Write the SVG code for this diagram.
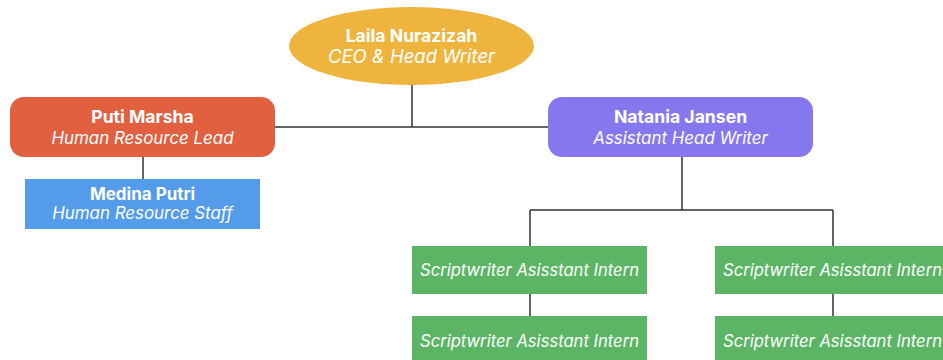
<svg xmlns="http://www.w3.org/2000/svg" width="943" height="360" viewBox="0 0 943 360">
<style>
text{font-family:Inter,"Noto Sans",sans-serif;fill:#fff;text-anchor:middle}
.n{font-weight:700;font-size:17.6px}
.r{font-style:italic;font-size:16.9px}
.g{font-style:italic;font-size:16.6px}
.c{fill:none;stroke:#333;stroke-width:1.5}
</style>
<rect width="943" height="360" fill="#fff"/>
<g id="connectors" class="c">
<path d="M412 85V127M275 127H548"/>
<path d="M143 157V179"/>
<path d="M682 157V210M530 210H833M530 210V246M833 210V246"/>
<path d="M530 294V316M833 294V316"/>
</g>
<g id="laila">
<ellipse cx="411.5" cy="46" rx="122.5" ry="39" fill="#EFB43D"/>
<text class="n" x="411.5" y="42">Laila Nurazizah</text>
<text class="r" x="411.5" y="63" style="font-size:18.5px">CEO &amp; Head Writer</text>
</g>
<g id="puti">
<rect x="10" y="97" width="265" height="60" rx="14" fill="#E0603F"/>
<text class="n" x="142.5" y="123">Puti Marsha</text>
<text class="r" x="142.5" y="144">Human Resource Lead</text>
</g>
<g id="medina">
<rect x="25" y="179" width="235" height="50" fill="#549BE9"/>
<text class="n" x="142.5" y="200" style="font-size:17px">Medina Putri</text>
<text class="r" x="142.5" y="219">Human Resource Staff</text>
</g>
<g id="natania">
<rect x="548" y="97" width="265" height="60" rx="14" fill="#8777EE"/>
<text class="n" x="680.5" y="123">Natania Jansen</text>
<text class="r" x="680.5" y="144">Assistant Head Writer</text>
</g>
<g id="intern1">
<rect x="412" y="246" width="235" height="48" fill="#5CB565"/>
<text class="g" x="529.5" y="276">Scriptwriter Asisstant Intern</text>
</g>
<g id="intern2">
<rect x="412" y="316" width="235" height="48" fill="#5CB565"/>
<text class="g" x="529.5" y="347">Scriptwriter Asisstant Intern</text>
</g>
<g id="intern3">
<rect x="715" y="246" width="235" height="48" fill="#5CB565"/>
<text class="g" x="832.5" y="276">Scriptwriter Asisstant Intern</text>
</g>
<g id="intern4">
<rect x="715" y="316" width="235" height="48" fill="#5CB565"/>
<text class="g" x="832.5" y="347">Scriptwriter Asisstant Intern</text>
</g>
</svg>
